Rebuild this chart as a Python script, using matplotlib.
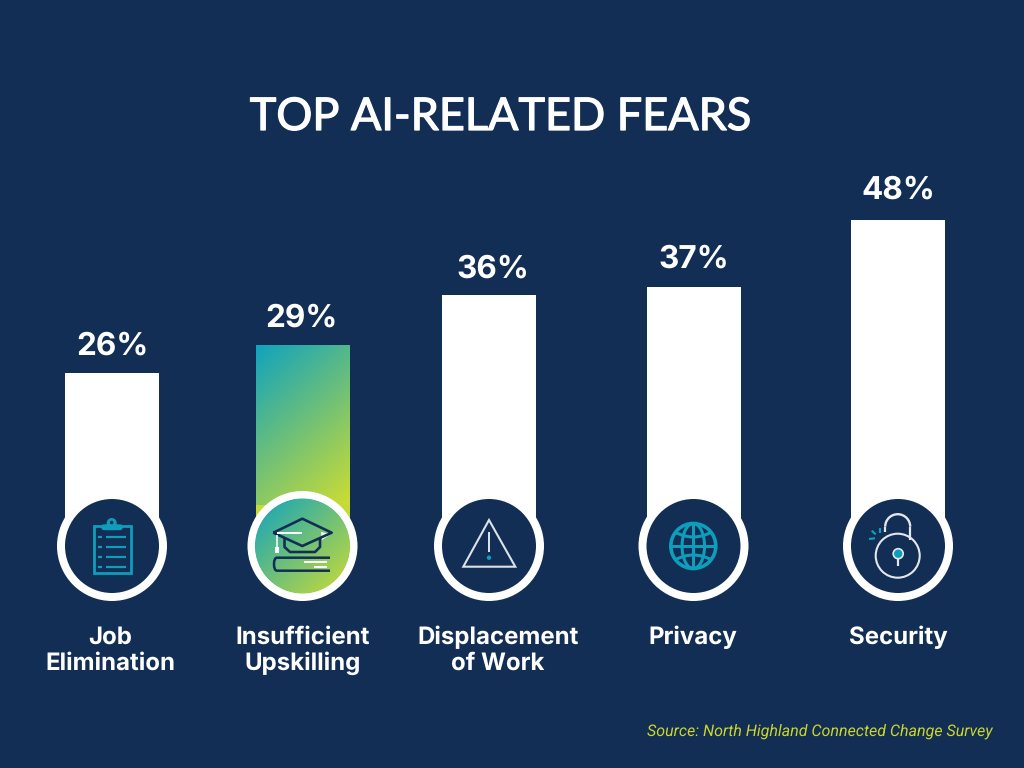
import numpy as np
import matplotlib
matplotlib.use("Agg")
import matplotlib.pyplot as plt
import matplotlib.patheffects as pe
from matplotlib.patches import Circle, Polygon, Rectangle, PathPatch, Arc, Ellipse, FancyBboxPatch
from matplotlib.path import Path
from matplotlib.colors import LinearSegmentedColormap

plt.rcParams["text.hinting"] = "no_hinting"
plt.rcParams["text.hinting_factor"] = 1

categories = [["Job", "Elimination"], ["Insufficient", "Upskilling"], ["Displacement", "of Work"], ["Privacy"], ["Security"]]
value_labels = ["26%", "29%", "36%", "37%", "48%"]
# drawn bar heights (the reference's bars are not strictly proportional to labels)
bar_heights = [26, 30.0, 37.3, 38.4, 48]
title = "TOP AI-RELATED FEARS"
source = "Source: North Highland Connected Change Survey"

NAVY = "#122E54"; TEAL = "#0E9EBB"; LIME = "#CBD62B"; WHITE = "#FFFFFF"
centers = [112, 302.5, 489, 693.5, 898]
label_x = [110, 302.5, 498, 693, 898]
value_dx = [0, -1, 4, 0, 0]
value_off = [27, 27, 25, 28, 30]
grad = LinearSegmentedColormap.from_list("g", ["#10A3BE", "#CDDD33"])

fig = plt.figure(figsize=(10.24, 7.68), dpi=100, facecolor=NAVY)
ax = fig.add_axes([0, 0, 1, 1])
ZERO_PX = 554.0; PX_PER = 6.95
ylim = (-(768 - ZERO_PX) / PX_PER, ZERO_PX / PX_PER)
ax.axis("off")

bars = ax.bar(centers, bar_heights, width=94, color=WHITE, zorder=2)
b = bars[1]
b.set_facecolor("none")
g = np.linspace(0, 1, 200)
X, Y = np.meshgrid(g, g)
grad_bottom = (ZERO_PX - 505) / PX_PER
im = ax.imshow(0.35 * X + 0.65 * (1 - Y), cmap=grad, vmin=0, vmax=1, aspect="auto", origin="lower",
               extent=(b.get_x(), b.get_x() + b.get_width(), grad_bottom, bar_heights[1]), zorder=2)
ax.add_patch(Rectangle((b.get_x(), 0), b.get_width(), grad_bottom, fc="#C5DA38", ec="none", zorder=2))
ax.set_xlim(0, 1024)
ax.set_ylim(*ylim)

for x, v, t, off, dx in zip(centers, bar_heights, value_labels, value_off, value_dx):
    ax.annotate(t, (x, v), xytext=(dx * 0.72, off * 0.72), textcoords="offset points", ha="center", va="center",
                color=WHITE, fontsize=22.7, fontweight="bold", family="Inter", zorder=5)

# overlay in pixel coordinates for circles and icons
ov = fig.add_axes([0, 0, 1, 1])
ov.set_xlim(0, 1024); ov.set_ylim(768, 0); ov.axis("off"); ov.patch.set_alpha(0)

CY = 546
for x in centers:
    ov.add_patch(Circle((x, CY), 55, fc=WHITE, ec="none", zorder=1))
    ov.add_patch(Circle((x, CY), 47, fc=NAVY, ec="none", zorder=2))
c2 = Circle((centers[1], CY), 47.5, fc="none", ec="none", zorder=2)
ov.add_patch(c2)
im2 = ov.imshow((X + (1 - Y)) / 2, cmap=grad, vmin=0, vmax=1, aspect="auto", origin="lower",
                extent=(centers[1] - 48, centers[1] + 48, CY + 48, CY - 48), zorder=3)
im2.set_clip_path(c2)
ov.set_xlim(0, 1024); ov.set_ylim(768, 0)

def line(pts, c, lw=2.2, z=5, cap="butt"):
    xs, ys = zip(*pts)
    ov.plot(xs, ys, color=c, lw=lw * 0.72, solid_capstyle=cap, solid_joinstyle="round", zorder=z)

# clipboard
ov.add_patch(Rectangle((93.5, 525.5), 37, 47.5, fc="none", ec=TEAL, lw=2.0, zorder=5))
ov.add_patch(FancyBboxPatch((102, 525), 20, 4.5, boxstyle="round,pad=0,rounding_size=2", fc=TEAL, ec=TEAL, lw=1, zorder=6))
ov.add_patch(Circle((111.7, 523), 5, fc=TEAL, ec="none", zorder=6))
ov.add_patch(Circle((111.7, 522.5), 1.8, fc=NAVY, ec="none", zorder=7))
for yy in (537, 547, 557, 567):
    line([(98.3, yy), (102.3, yy)], TEAL, 2.2)
    line([(105.7, yy), (126, yy)], TEAL, 2.2)

# graduation cap
line([(273.3, 532.7), (302.3, 518.7), (331.7, 532.7), (302.3, 546), (273.3, 532.7)], NAVY, 2.6)
line([(284.5, 538), (284.5, 547), (290, 552), (315, 552), (320, 547), (320, 538)], NAVY, 2.6)
line([(277, 532.7), (302, 532.7)], WHITE, 2)
line([(277, 535), (277, 552.5)], WHITE, 1.5)
line([(277, 547), (277, 552.5)], WHITE, 4)
ov.add_patch(Polygon([(321, 532), (331, 534), (322, 540)], fc=WHITE, ec="none", zorder=4))
book = Path([(330, 557.7), (277, 557.7), (274, 557.7), (274, 564), (274, 570.7), (277, 570.7), (330, 570.7)],
            [Path.MOVETO, Path.LINETO, Path.CURVE3, Path.CURVE3, Path.CURVE3, Path.CURVE3, Path.LINETO])
ov.add_patch(PathPatch(book, fc="none", ec=NAVY, lw=1.8, zorder=5))
line([(304, 562), (327, 562)], WHITE, 2)
line([(314, 566.7), (327, 566.7)], WHITE, 2)

# warning
ov.add_patch(Polygon([(489, 520), (515.3, 566.7), (463.3, 566.7)], closed=True, fc="none", ec="#DDE1E8", lw=1.5, zorder=5))
line([(489, 531.7), (489, 552.3)], "#DDE1E8", 2)
ov.add_patch(Circle((489, 557.7), 2.2, fc=TEAL, ec="none", zorder=5))

# globe
gx, gy, gr = 693.3, 546, 22.5
ov.add_patch(Circle((gx, gy), gr, fc="none", ec=TEAL, lw=2.6, zorder=5))
ov.add_patch(Ellipse((gx, gy), gr, 2 * gr, fc="none", ec=TEAL, lw=2.2, zorder=5))
line([(gx, gy - gr), (gx, gy + gr)], TEAL, 3)
line([(gx - gr, gy), (gx + gr, gy)], TEAL, 3)
for s in (-1, 1):
    p = Path([(gx - 18.5, gy + s * 14), (gx, gy + s * 4), (gx + 18.5, gy + s * 14)], [Path.MOVETO, Path.CURVE3, Path.CURVE3])
    ov.add_patch(PathPatch(p, fc="none", ec=TEAL, lw=2.2, zorder=5))

# lock
lx, ly = 897.7, 555.7
LC = "#E3E7EC"
ov.add_patch(Circle((lx, ly), 22, fc="none", ec=LC, lw=1.5, zorder=5))
ov.add_patch(Arc((lx, 526.7), 25, 25, theta1=180, theta2=360, ec=LC, lw=1.7, zorder=5))
line([(lx - 12.5, 526.7), (lx - 12.5, 532)], LC, 2.2)
line([(lx + 12.5, 526.7), (lx + 12.5, 540)], LC, 2.2)
ov.add_patch(Circle((lx + 0.5, 553.7), 5, fc=TEAL, ec=LC, lw=1.2, zorder=5))
line([(lx + 0.5, 558.5), (lx + 0.5, 566)], LC, 2.2)
line([(869, 539), (875, 538.3)], TEAL, 2.2)
line([(871.7, 530.7), (875.7, 534.3)], TEAL, 2.2)
line([(880, 528.3), (880, 533.3)], TEAL, 2.2)

# text
ov.text(500.5, 130, title, ha="center", va="baseline", color=WHITE, fontsize=32.4, family="Lato", zorder=10,
        path_effects=[pe.withStroke(linewidth=0.9, foreground=WHITE)])
for x, lines in zip(label_x, categories):
    for base, s in zip((644, 669.5), lines):
        ov.text(x, base, s, ha="center", va="baseline", color=WHITE, fontsize=17.3, fontweight="bold",
                family="Inter", zorder=10)
ov.text(993, 731.5, source, ha="right", va="center", color=LIME, fontsize=11.2, style="italic", family="Roboto", zorder=10)

fig.savefig("out.png", dpi=100, facecolor=NAVY)
